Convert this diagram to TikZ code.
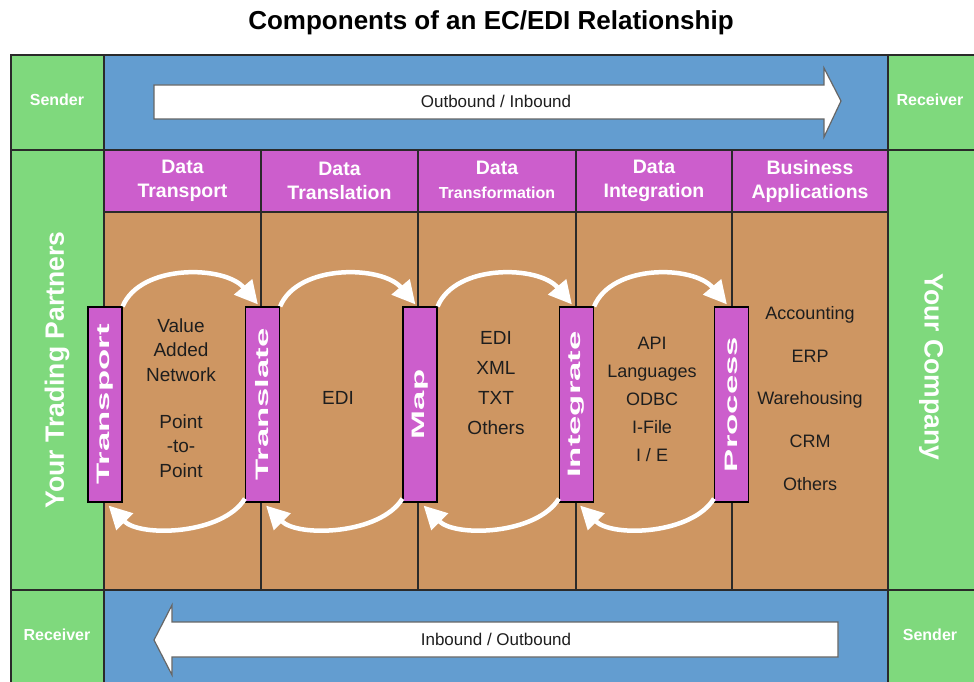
\documentclass[tikz,border=0pt]{standalone}
\usepackage{fontspec}
\setmainfont{Liberation Sans}
\usepackage{graphicx}
\usetikzlibrary{arrows.meta}
\definecolor{cgreen}{HTML}{7FD97D}
\definecolor{cblue}{HTML}{639DD0}
\definecolor{cmag}{HTML}{CC5ECC}
\definecolor{ctan}{HTML}{CE9662}
\definecolor{cline}{HTML}{2A2A2A}
\definecolor{ctext}{HTML}{1E1E1E}
\tikzset{
  gridline/.style={draw=cline, line width=1.1pt},
  bar/.style={draw=black, fill=cmag, line width=1.2pt, minimum width=34pt, minimum height=195pt, inner sep=0pt},
  bartext/.style={text=white, font=\fontsize{18}{18}\selectfont\bfseries, rotate=90, inner sep=0pt},
  hdr/.style={text=white, font=\fontsize{19.5}{24}\selectfont\bfseries, align=center, inner sep=0pt},
  body/.style={text=ctext, align=center, inner sep=0pt},
  side/.style={text=white, font=\fontsize{16}{16}\selectfont\bfseries, inner sep=0pt},
  big/.style={text=white, font=\fontsize{26.5}{26.5}\selectfont\bfseries, inner sep=0pt},
  flow/.style={draw=white, line width=4.5pt, -{Triangle[length=23pt,width=23pt]}},
  bigarrow/.style={fill=white, draw=black!60, line width=1.2pt},
  arrowtext/.style={text=ctext, font=\fontsize{17}{17}\selectfont, inner sep=0pt},
}
\begin{document}
\begin{tikzpicture}[x=1pt,y=-1pt]
\useasboundingbox (0,0) rectangle (974,682);
% title
\node[font=\fontsize{26}{26}\selectfont\bfseries, text=black, inner sep=0pt] (title) at (491,23) {Components of an EC/EDI Relationship};
% backgrounds
\fill[cgreen] (11,55) rectangle (104,682);
\fill[cgreen] (888,55) rectangle (974,682);
\fill[cblue] (104,55) rectangle (888,150);
\fill[cblue] (104,590) rectangle (888,682);
\fill[cmag] (104,150) rectangle (888,212);
\fill[ctan] (104,212) rectangle (888,590);
% grid lines
\draw[gridline] (11,682) -- (11,55) -- (974,55);
\draw[gridline] (11,150) -- (974,150);
\draw[gridline] (11,590) -- (974,590);
\draw[gridline] (104,212) -- (888,212);
\draw[gridline] (104,55) -- (104,682);
\draw[gridline] (888,55) -- (888,682);
\foreach \xx in {261,418,576,732} \draw[gridline] (\xx,150) -- (\xx,590);
% big arrows
\draw[bigarrow] (154,85) -- (824,85) -- (824,68) -- (841,101) -- (824,137) -- (824,119) -- (154,119) -- cycle;
\draw[bigarrow] (838,622) -- (172,622) -- (172,605) -- (154,640) -- (172,675) -- (172,657) -- (838,657) -- cycle;
\node[arrowtext] (outin) at (496,101) {Outbound / Inbound};
\node[arrowtext] (inout) at (496,639) {Inbound / Outbound};
% corner labels
\node[side] (s1) at (57,100) {Sender};
\node[side] (r1) at (930,100) {Receiver};
\node[side] (r2) at (57,635) {Receiver};
\node[side] (s2) at (930,635) {Sender};
% big side labels
\node[big, rotate=90] (ytp) at (57,370) {Your Trading Partners};
\node[big, rotate=-90] (yc) at (931,367) {Your Company};
% headers
\node[hdr] (h1) at (182.5,181) {Data\\Transport};
\node[hdr] (h2) at (339.5,181) {Data\\Translation};
\node[hdr] (h3) at (497,180) {Data\\{\fontsize{16}{20}\selectfont Transformation}};
\node[hdr] (h4) at (654,181) {Data\\Integration};
\node[hdr] (h5) at (810,181) {Business\\Applications};
% bars
\node[bar] (b1) at (105,404.5) {};
\node[bar] (b2) at (262.5,404.5) {};
\node[bar] (b3) at (420,404.5) {};
\node[bar] (b4) at (576.5,404.5) {};
\node[bar] (b5) at (731.5,404.5) {};
\node[bartext] (t1) at (b1) {\scalebox{1.93}[1]{Transport}};
\node[bartext] (t2) at (b2) {\scalebox{1.93}[1]{Translate}};
\node[bartext] (t3) at (b3) {\scalebox{1.93}[1]{Map}};
\node[bartext] (t4) at (b4) {\scalebox{1.93}[1]{Integrate}};
\node[bartext] (t5) at (b5) {\scalebox{1.93}[1]{Process}};
% body texts
\node[body, font=\fontsize{19}{24.5}\selectfont] (c1) at (181,398) {Value\\Added\\Network\\[22.5pt]Point\\-to-\\Point};
\node[body, font=\fontsize{19}{24.5}\selectfont] (c2) at (338,398) {EDI};
\node[body, font=\fontsize{19}{30}\selectfont] (c3) at (496,383) {EDI\\XML\\TXT\\Others};
\node[body, font=\fontsize{18}{28}\selectfont] (c4) at (652,399) {API\\Languages\\ODBC\\I-File\\I / E};
\node[body, font=\fontsize{18}{42.75}\selectfont] (c5) at (810,398.5) {Accounting\\ERP\\Warehousing\\CRM\\Others};
% flow arcs (top, forward)
\foreach \a/\b in {b1/b2,b2/b3,b3/b4,b4/b5}{
  \draw[flow] (\a.north east) .. controls +(18,-43) and +(-33,-39) .. ([xshift=13pt,yshift=2pt]\b.north west);
}
% flow arcs (bottom, backward)
\foreach \a/\b in {b2/b1,b3/b2,b4/b3,b5/b4}{
  \draw[flow] ([yshift=4pt]\a.south west) .. controls +(-22,36) and +(32,32) .. ([xshift=-14pt,yshift=-3pt]\b.south east);
}
\end{tikzpicture}
\end{document}
